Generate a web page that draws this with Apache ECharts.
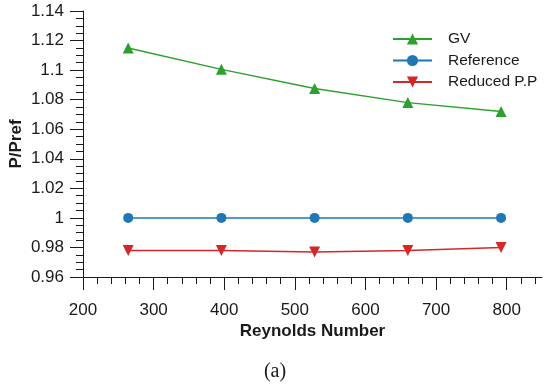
<!DOCTYPE html>
<html>
<head>
<meta charset="utf-8">
<script src="https://cdn.jsdelivr.net/npm/echarts@6/dist/echarts.min.js"></script>
<style>
html,body{margin:0;padding:0;background:#fff;}
#chart{width:550px;height:386px;}
</style>
</head>
<body>
<div id="chart"></div>
<script>
const reynolds = [264, 396, 528, 660, 792];
const gv = [1.115, 1.1005, 1.0875, 1.078, 1.072];
const reference = [1, 1, 1, 1, 1];
const reduced = [0.978, 0.978, 0.977, 0.978, 0.980];
const seriesNames = ['GV', 'Reference', 'Reduced P.P'];
const xTicks = [200, 300, 400, 500, 600, 700, 800];
const xMinorTicks = [220, 240, 260, 280, 320, 340, 360, 380, 420, 440, 460, 480, 520, 540, 560, 580, 620, 640, 660, 680, 720, 740, 760, 780, 820, 840];
const xTitle = 'Reynolds Number';
const yTitle = 'P/Pref';
const caption = '(a)';

const pair = (ys) => reynolds.map((x, i) => [x, ys[i]]);
const font = 'Liberation Sans, Arial, sans-serif';
const ink = '#1a1a1a';

const chart = echarts.init(document.getElementById('chart'), null, {renderer: 'canvas'});
chart.setOption({
  animation: false,
  backgroundColor: '#fff',
  grid: {left: 83, right: 8, top: 11, bottom: 109, containLabel: false, outerBoundsMode: 'none'},
  legend: {
    orient: 'vertical',
    left: 387,
    top: 26,
    itemWidth: 39,
    itemHeight: 14,
    itemGap: 5.5,
    data: seriesNames,
    textStyle: {fontFamily: font, fontSize: 15.5, color: ink, lineHeight: 16, padding: [0, 0, 0, 11]}
  },
  xAxis: [{
    type: 'value',
    min: 200,
    max: 850,
    interval: 100,
    splitLine: {show: false},
    axisLine: {show: true, lineStyle: {color: ink, width: 1}},
    axisTick: {show: true, inside: false, length: 13, customValues: xTicks, lineStyle: {color: ink, width: 1}},
    minorTick: {show: false},
    axisLabel: {customValues: xTicks, margin: 25, fontFamily: font, fontSize: 17, color: ink},
    name: xTitle,
    nameLocation: 'middle',
    nameGap: 46,
    nameMoveOverlap: false,
    nameTextStyle: {fontFamily: font, fontSize: 17, fontWeight: 'bold', color: ink}
  }, {
    type: 'value',
    position: 'bottom',
    min: 200,
    max: 850,
    interval: 100,
    splitLine: {show: false},
    axisLine: {show: false},
    axisLabel: {show: false},
    axisTick: {show: true, inside: false, length: 7, customValues: xMinorTicks, lineStyle: {color: ink, width: 1}}
  }],
  yAxis: {
    type: 'value',
    min: 0.96,
    max: 1.14,
    interval: 0.02,
    splitLine: {show: false},
    axisLine: {show: true, lineStyle: {color: ink, width: 1}},
    axisTick: {show: true, inside: false, length: 13, lineStyle: {color: ink, width: 1}},
    minorTick: {show: true, splitNumber: 4, length: 7, lineStyle: {color: ink, width: 1}},
    axisLabel: {margin: 19, fontFamily: font, fontSize: 17, color: ink},
    name: yTitle,
    nameLocation: 'middle',
    nameGap: 58,
    nameMoveOverlap: false,
    nameTextStyle: {fontFamily: font, fontSize: 17, fontWeight: 'bold', color: ink}
  },
  graphic: [{
    type: 'text',
    left: 'center',
    top: 362,
    style: {text: caption, font: '20px "Liberation Serif", "DejaVu Serif", serif', fill: ink}
  }],
  series: [{
    name: seriesNames[0],
    type: 'line',
    data: pair(gv),
    color: '#2ca02c',
    symbol: 'triangle',
    symbolSize: 11,
    lineStyle: {width: 1.5},
    itemStyle: {color: '#2ca02c'}
  }, {
    name: seriesNames[1],
    type: 'line',
    data: pair(reference),
    color: '#1f77b4',
    symbol: 'circle',
    symbolSize: 10,
    lineStyle: {width: 1.5},
    itemStyle: {color: '#1f77b4'}
  }, {
    name: seriesNames[2],
    type: 'line',
    data: pair(reduced),
    color: '#d62728',
    symbol: 'triangle',
    symbolRotate: 180,
    symbolSize: 11,
    lineStyle: {width: 1.5},
    itemStyle: {color: '#d62728'}
  }]
});
</script>
</body>
</html>
